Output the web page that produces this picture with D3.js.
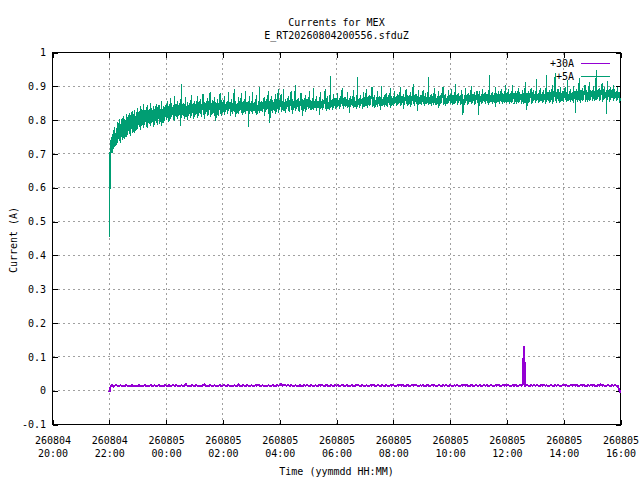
<!DOCTYPE html>
<html>
<head>
<meta charset="utf-8">
<script src="https://cdn.jsdelivr.net/npm/d3@7"></script>
<style>
body { margin: 0; background: #fff; }
svg { display: block; font-family: "DejaVu Sans Mono", "Liberation Mono", monospace; font-size: 10px; }
</style>
</head>
<body>
<div id="chart"></div>
<script>
const MARGIN = { TOP: 52.5, BOTTOM: 55.5, LEFT: 52.5, RIGHT: 19.5 }
const WIDTH = 640 - MARGIN.LEFT - MARGIN.RIGHT
const HEIGHT = 480 - MARGIN.TOP - MARGIN.BOTTOM

const titleLines = ["Currents for MEX", "E_RT20260804200556.sfduZ"]
const xLabel = "Time (yymmdd HH:MM)"
const yLabel = "Current (A)"
const seriesNames = ["+30A", "+5A"]
const seriesColors = ["#9400d3", "#009e73"]
const seriesWidths = [2, 1]

const xStart = new Date(2026, 7, 4, 20, 0)
const xEnd = new Date(2026, 7, 5, 16, 0)
const yTicks = [-0.1, 0, 0.1, 0.2, 0.3, 0.4, 0.5, 0.6, 0.7, 0.8, 0.9, 1]

// readings in 3 minute bins from 260804 22:00 to 260805 16:00, one row per hour
const sampleStart = new Date(2026, 7, 4, 22, 0)
const sampleMinutes = 3

const plus30A = [
  -0.005,0.013,0.016,0.012,0.015,0.017,0.013,0.014,0.016,0.013,0.015,0.014,0.017,0.013,0.015,0.014,0.016,0.014,0.013,0.015,
  0.014,0.016,0.013,0.015,0.014,0.017,0.014,0.015,0.013,0.016,0.015,0.014,0.016,0.013,0.015,0.017,0.014,0.015,0.013,0.016,
  0.015,0.013,0.016,0.014,0.015,0.017,0.014,0.016,0.015,0.013,0.015,0.016,0.014,0.015,0.019,0.014,0.015,0.013,0.016,0.015,
  0.014,0.016,0.015,0.013,0.015,0.014,0.016,0.018,0.014,0.015,0.013,0.016,0.015,0.014,0.016,0.015,0.013,0.015,0.016,0.014,
  0.015,0.017,0.014,0.015,0.016,0.014,0.015,0.013,0.016,0.015,0.014,0.019,0.015,0.014,0.016,0.015,0.014,0.016,0.015,0.013,
  0.016,0.015,0.014,0.016,0.015,0.017,0.014,0.015,0.016,0.014,0.015,0.013,0.016,0.015,0.014,0.016,0.015,0.014,0.016,0.015,
  0.016,0.019,0.015,0.018,0.016,0.015,0.017,0.014,0.016,0.015,0.014,0.016,0.015,0.013,0.016,0.015,0.014,0.016,0.015,0.016,
  0.015,0.014,0.016,0.015,0.013,0.016,0.015,0.014,0.017,0.015,0.016,0.014,0.015,0.016,0.015,0.014,0.016,0.015,0.014,0.016,
  0.015,0.016,0.014,0.015,0.017,0.015,0.014,0.016,0.015,0.013,0.015,0.016,0.014,0.015,0.016,0.018,0.015,0.014,0.016,0.015,
  0.014,0.016,0.015,0.014,0.016,0.015,0.017,0.015,0.014,0.016,0.015,0.014,0.016,0.015,0.014,0.016,0.015,0.013,0.016,0.015,
  0.016,0.015,0.014,0.016,0.015,0.017,0.015,0.016,0.014,0.015,0.016,0.015,0.014,0.016,0.015,0.017,0.016,0.015,0.014,0.016,
  0.015,0.016,0.014,0.015,0.016,0.015,0.014,0.016,0.015,0.016,0.014,0.015,0.016,0.015,0.014,0.016,0.015,0.016,0.015,0.014,
  0.016,0.015,0.014,0.016,0.015,0.016,0.015,0.014,0.016,0.015,0.017,0.015,0.016,0.014,0.015,0.016,0.015,0.014,0.016,0.015,
  0.015,0.016,0.014,0.015,0.016,0.015,0.016,0.014,0.015,0.016,0.015,0.014,0.016,0.015,0.016,0.015,0.014,0.016,0.015,0.016,
  0.015,0.016,0.015,0.014,0.016,0.015,0.016,0.015,0.014,0.016,0.015,0.016,0.131,0.015,0.016,0.015,0.014,0.016,0.015,0.016,
  0.015,0.016,0.015,0.014,0.016,0.015,0.017,0.015,0.016,0.014,0.015,0.016,0.015,0.014,0.016,0.015,0.016,0.015,0.014,0.016,
  0.016,0.015,0.016,0.014,0.015,0.016,0.015,0.017,0.015,0.016,0.015,0.014,0.016,0.015,0.016,0.015,0.014,0.016,0.015,0.016,
  0.015,0.016,0.015,0.014,0.016,0.015,0.018,0.015,0.016,0.014,0.015,0.016,0.015,0.014,0.016,0.015,0.016,0.015,0.014,0.004,
  -0.007
]

// +5A is very noisy: highest and lowest reading in each bin
const plus5AMax = [
  0.705,0.741,0.758,0.772,0.781,0.776,0.794,0.802,0.789,0.806,0.812,0.803,0.817,0.809,0.822,0.815,0.826,0.819,0.831,0.824,
  0.836,0.828,0.841,0.833,0.847,0.829,0.838,0.844,0.831,0.852,0.836,0.842,0.834,0.848,0.839,0.845,0.833,0.856,0.841,0.838,
  0.848,0.857,0.843,0.866,0.851,0.845,0.872,0.849,0.856,0.844,0.861,0.908,0.852,0.847,0.868,0.853,0.846,0.859,0.874,0.851,
  0.856,0.849,0.871,0.853,0.862,0.848,0.877,0.855,0.851,0.866,0.857,0.884,0.852,0.859,0.869,0.854,0.861,0.851,0.879,0.858,
  0.852,0.871,0.849,0.858,0.884,0.853,0.862,0.849,0.893,0.856,0.851,0.868,0.855,0.879,0.852,0.861,0.887,0.854,0.857,0.872,
  0.856,0.883,0.853,0.861,0.875,0.854,0.897,0.858,0.852,0.869,0.857,0.862,0.886,0.855,0.871,0.859,0.853,0.878,0.861,0.891,
  0.859,0.878,0.856,0.892,0.861,0.857,0.871,0.858,0.885,0.862,0.856,0.903,0.859,0.866,0.857,0.881,0.862,0.858,0.874,0.861,
  0.863,0.887,0.859,0.866,0.894,0.861,0.872,0.858,0.868,0.883,0.862,0.859,0.891,0.864,0.871,0.860,0.929,0.863,0.878,0.866,
  0.866,0.879,0.864,0.872,0.895,0.865,0.869,0.861,0.884,0.866,0.871,0.863,0.889,0.867,0.862,0.928,0.866,0.874,0.862,0.883,
  0.869,0.893,0.867,0.875,0.871,0.899,0.868,0.874,0.866,0.887,0.871,0.868,0.902,0.869,0.873,0.881,0.867,0.874,0.895,0.870,
  0.872,0.886,0.870,0.877,0.873,0.898,0.871,0.876,0.869,0.891,0.874,0.870,0.884,0.872,0.906,0.873,0.877,0.870,0.889,0.874,
  0.874,0.888,0.872,0.879,0.875,0.926,0.873,0.878,0.871,0.894,0.876,0.872,0.886,0.874,0.879,0.897,0.873,0.877,0.871,0.889,
  0.876,0.891,0.874,0.882,0.906,0.877,0.880,0.873,0.889,0.878,0.874,0.896,0.876,0.881,0.874,0.902,0.877,0.883,0.875,0.887,
  0.878,0.886,0.876,0.893,0.879,0.884,0.877,0.889,0.934,0.880,0.883,0.876,0.898,0.879,0.885,0.877,0.893,0.881,0.878,0.904,
  0.880,0.892,0.878,0.885,0.903,0.881,0.887,0.879,0.896,0.882,0.878,0.889,0.881,0.912,0.880,0.886,0.879,0.894,0.883,0.888,
  0.882,0.921,0.880,0.888,0.894,0.883,0.889,0.881,0.932,0.884,0.890,0.882,0.903,0.886,0.938,0.883,0.891,0.884,0.899,0.887,
  0.885,0.897,0.883,0.918,0.886,0.892,0.884,0.901,0.887,0.893,0.885,0.926,0.888,0.894,0.886,0.905,0.889,0.884,0.912,0.890,
  0.889,0.901,0.887,0.948,0.890,0.896,0.888,0.909,0.891,0.897,0.889,0.915,0.892,0.898,0.890,0.904,0.893,0.887,0.899,0.884,
  0.866
]
const plus5AMin = [
  0.454,0.688,0.702,0.715,0.721,0.728,0.733,0.737,0.731,0.742,0.748,0.745,0.751,0.756,0.759,0.754,0.763,0.766,0.761,0.771,
  0.774,0.779,0.771,0.783,0.778,0.786,0.781,0.776,0.788,0.784,0.791,0.779,0.787,0.793,0.785,0.789,0.796,0.784,0.792,0.797,
  0.799,0.806,0.795,0.803,0.809,0.801,0.797,0.808,0.804,0.811,0.784,0.806,0.812,0.803,0.808,0.799,0.811,0.806,0.813,0.802,
  0.809,0.814,0.806,0.812,0.817,0.809,0.815,0.804,0.818,0.812,0.816,0.808,0.814,0.819,0.811,0.796,0.816,0.813,0.819,0.812,
  0.821,0.815,0.824,0.818,0.826,0.812,0.823,0.819,0.825,0.808,0.822,0.817,0.827,0.821,0.814,0.824,0.818,0.826,0.781,0.823,
  0.824,0.819,0.827,0.822,0.816,0.826,0.821,0.828,0.823,0.811,0.825,0.829,0.819,0.792,0.826,0.822,0.827,0.818,0.825,0.821,
  0.829,0.825,0.831,0.827,0.822,0.833,0.828,0.824,0.831,0.818,0.829,0.826,0.832,0.827,0.823,0.830,0.812,0.828,0.825,0.831,
  0.832,0.836,0.829,0.834,0.831,0.837,0.828,0.835,0.816,0.833,0.830,0.836,0.832,0.827,0.834,0.831,0.836,0.829,0.835,0.832,
  0.836,0.840,0.834,0.838,0.841,0.833,0.839,0.843,0.835,0.821,0.838,0.842,0.836,0.839,0.834,0.840,0.837,0.841,0.832,0.838,
  0.839,0.843,0.837,0.841,0.845,0.838,0.842,0.836,0.844,0.839,0.843,0.829,0.841,0.845,0.838,0.842,0.840,0.844,0.837,0.842,
  0.843,0.847,0.841,0.845,0.848,0.842,0.846,0.833,0.844,0.848,0.842,0.846,0.840,0.845,0.849,0.843,0.847,0.826,0.844,0.848,
  0.845,0.849,0.843,0.847,0.850,0.844,0.848,0.842,0.846,0.850,0.844,0.848,0.836,0.847,0.851,0.845,0.849,0.843,0.847,0.850,
  0.847,0.851,0.845,0.849,0.852,0.846,0.850,0.844,0.848,0.815,0.846,0.850,0.844,0.849,0.853,0.847,0.851,0.845,0.849,0.852,
  0.816,0.853,0.847,0.851,0.854,0.848,0.852,0.846,0.850,0.854,0.848,0.852,0.838,0.851,0.855,0.849,0.853,0.847,0.851,0.854,
  0.850,0.854,0.848,0.852,0.855,0.849,0.853,0.847,0.851,0.855,0.849,0.853,0.847,0.852,0.831,0.850,0.854,0.848,0.852,0.856,
  0.852,0.856,0.850,0.854,0.857,0.851,0.855,0.849,0.853,0.857,0.851,0.855,0.849,0.854,0.858,0.852,0.856,0.850,0.854,0.858,
  0.855,0.859,0.853,0.857,0.860,0.854,0.858,0.852,0.821,0.860,0.854,0.858,0.852,0.857,0.861,0.855,0.859,0.853,0.857,0.861,
  0.858,0.862,0.856,0.860,0.863,0.857,0.861,0.855,0.859,0.863,0.819,0.861,0.855,0.860,0.864,0.858,0.862,0.856,0.860,0.852,
  0.856
]

const svg = d3.select("#chart")
  .append("svg")
    .attr("width", 640)
    .attr("height", 480)

svg.append("rect").attr("width", 640).attr("height", 480).attr("fill", "#fff")

const g = svg.append("g")
  .attr("transform", `translate(${MARGIN.LEFT}, ${MARGIN.TOP})`)

const x = d3.scaleTime().domain([xStart, xEnd]).range([0, WIDTH])
const y = d3.scaleLinear().domain([-0.1, 1]).range([HEIGHT, 0])

const xTicks = d3.timeHour.every(2).range(xStart, d3.timeMinute.offset(xEnd, 1))
const sampleTime = i => d3.timeMinute.offset(sampleStart, i * sampleMinutes)

// grid
const grid = g.append("g")
  .attr("stroke", "#a0a0a0")
  .attr("stroke-dasharray", "2,3")
  .attr("shape-rendering", "crispEdges")
grid.selectAll(".gx").data(xTicks.slice(1, -1)).enter().append("line")
  .attr("x1", d => x(d)).attr("x2", d => x(d))
  .attr("y1", 0).attr("y2", HEIGHT)
grid.selectAll(".gy").data(yTicks.slice(1, -1)).enter().append("line")
  .attr("x1", 0).attr("x2", WIDTH)
  .attr("y1", d => y(d)).attr("y2", d => y(d))

// axes, ticks point inward on all four sides
const fmtY = d => String(+d.toFixed(1))

const yAxisG = g.append("g")
  .call(d3.axisLeft(y).tickValues(yTicks).tickSize(-5).tickPadding(6.5).tickFormat(fmtY))
const yRightG = g.append("g")
  .attr("transform", `translate(${WIDTH}, 0)`)
  .call(d3.axisRight(y).tickValues(yTicks).tickSize(-5).tickFormat(""))
const xAxisG = g.append("g")
  .attr("transform", `translate(0, ${HEIGHT})`)
  .call(d3.axisBottom(x).tickValues(xTicks).tickSize(-5).tickFormat(""))
const xTopG = g.append("g")
  .call(d3.axisTop(x).tickValues(xTicks).tickSize(-5).tickFormat(""))

;[yAxisG, yRightG, xAxisG, xTopG].forEach(a => {
  a.attr("font-family", null).attr("font-size", null)
  a.select(".domain").remove()
  a.selectAll(".tick line").attr("stroke", "#000").attr("shape-rendering", "crispEdges")
  a.selectAll(".tick text").attr("fill", "#000")
})

xAxisG.selectAll(".tick text").remove()
const xt = xAxisG.selectAll(".tick").append("text")
  .attr("fill", "#000")
  .attr("text-anchor", "middle")
xt.append("tspan").attr("x", 0).attr("y", 19).text(d3.timeFormat("%y%m%d"))
xt.append("tspan").attr("x", 0).attr("y", 32).text(d3.timeFormat("%H:%M"))

// frame
g.append("rect")
  .attr("width", WIDTH)
  .attr("height", HEIGHT)
  .attr("fill", "none")
  .attr("stroke", "#000")
  .attr("shape-rendering", "crispEdges")

// titles
svg.append("g").attr("text-anchor", "middle")
  .selectAll("text").data(titleLines).enter().append("text")
    .attr("x", 336.5)
    .attr("y", (d, i) => 26 + i * 12.5)
    .text(d => d)

svg.append("text")
  .attr("x", MARGIN.LEFT + WIDTH / 2)
  .attr("y", 475)
  .attr("text-anchor", "middle")
  .text(xLabel)

svg.append("text")
  .attr("transform", "translate(17, 240) rotate(-90)")
  .attr("text-anchor", "middle")
  .text(yLabel)

// series: +30A as a plain line, +5A as max/min per bin joined up
const pts30 = plus30A.map((v, i) => [sampleTime(i), v])
const pts5 = []
plus5AMax.forEach((v, i) => {
  pts5.push([sampleTime(i), v])
  pts5.push([sampleTime(i), plus5AMin[i]])
})

const line = d3.line()
  .x(d => x(d[0]))
  .y(d => y(d[1]))

const keyX = 574 - MARGIN.LEFT
;[pts30, pts5].forEach((pts, s) => {
  const ky = 11 + s * 13
  g.append("text")
    .attr("x", keyX)
    .attr("y", ky + 3.5)
    .attr("text-anchor", "end")
    .text(seriesNames[s])
  g.append("line")
    .attr("x1", keyX + 7).attr("x2", keyX + 36)
    .attr("y1", ky).attr("y2", ky)
    .attr("stroke", seriesColors[s])
    .attr("shape-rendering", "crispEdges")
  g.append("path")
    .datum(pts)
    .attr("fill", "none")
    .attr("stroke", seriesColors[s])
    .attr("stroke-width", seriesWidths[s])
    .attr("shape-rendering", "crispEdges")
    .attr("d", line)
})
</script>
</body>
</html>
